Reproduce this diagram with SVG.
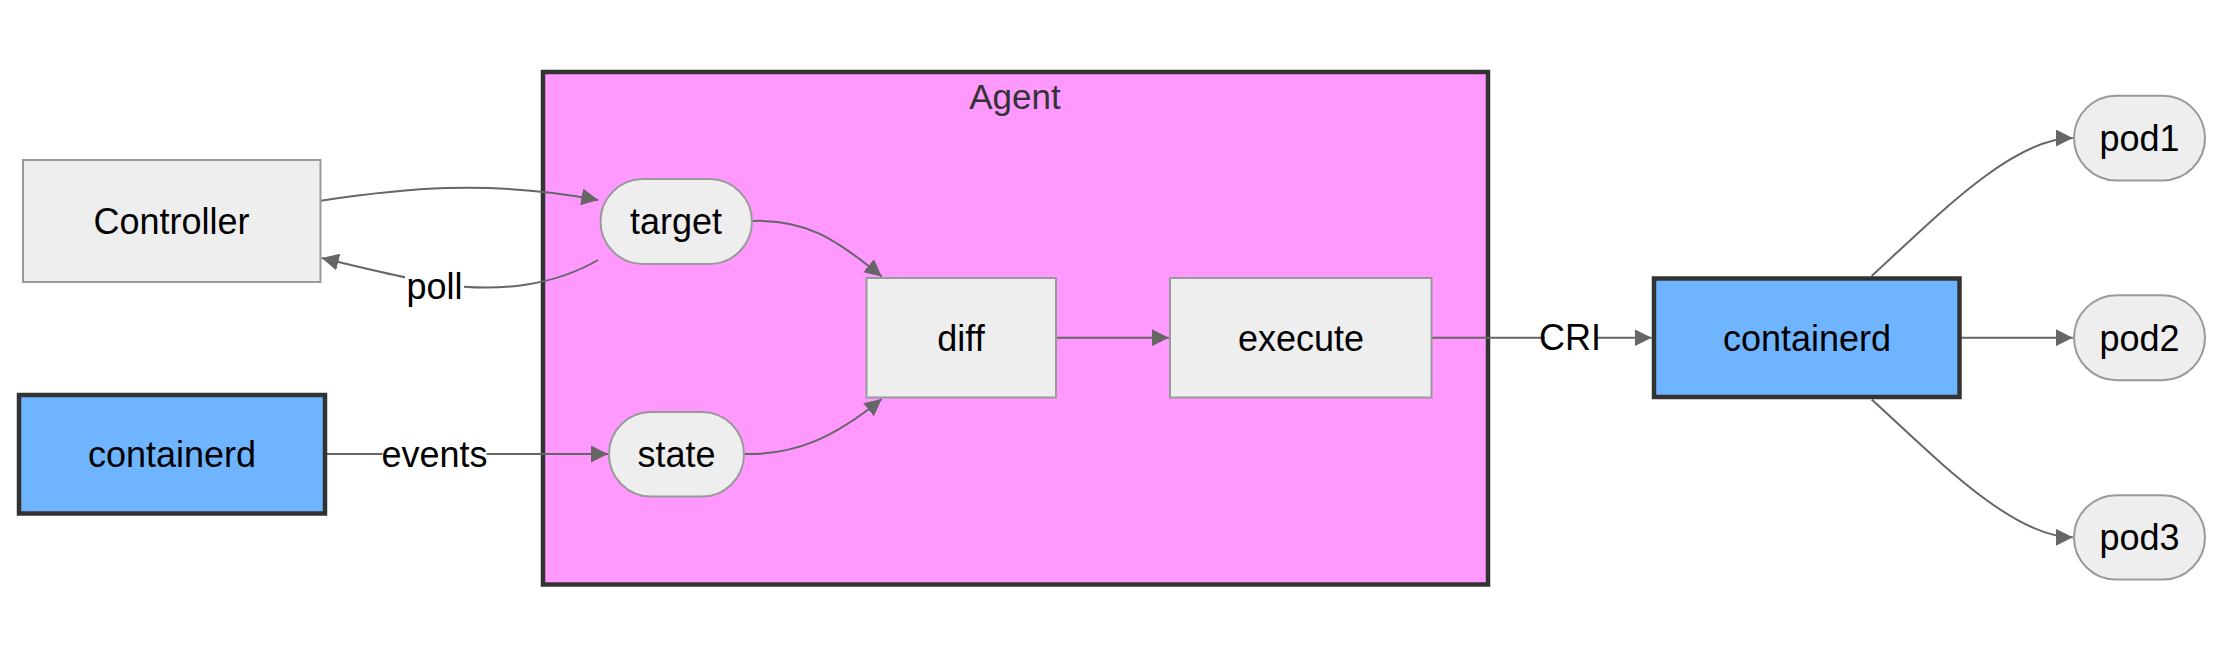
<svg xmlns="http://www.w3.org/2000/svg" width="2222" height="653" viewBox="0 0 2222 653">
<style>
  text { font-family: "Liberation Sans", Arial, sans-serif; font-size: 36px; fill: #000; text-anchor: middle; }
  .node { fill: #eeeeee; stroke: #999999; stroke-width: 2; }
  .ext { fill: #6eb4ff; stroke: #333333; stroke-width: 4.5; }
  .cluster { fill: #ff99ff; stroke: #333333; stroke-width: 4.5; }
  .title { fill: #333333; font-size: 35px; }
  .edge { fill: none; stroke: #666666; stroke-width: 2; }
  .lblbg { fill: #ffffff; }
</style>
<defs>
  <marker id="arrow" viewBox="0 0 10 10" refX="10" refY="5" markerUnits="userSpaceOnUse" markerWidth="17" markerHeight="17" orient="auto">
    <path d="M0,0 L10,5 L0,10 z" fill="#666666"/>
  </marker>
</defs>
<rect width="2222" height="653" fill="#ffffff"/>

<g id="cluster-agent">
  <rect class="cluster" x="543" y="72" width="945" height="512.5"/>
  <text class="title" x="1015" y="109">Agent</text>
</g>

<g id="connectors">
  <path class="edge" d="M320.7,200.7 C400,189 485,179 598.3,200" marker-end="url(#arrow)"/>
  <path class="edge" d="M598,260 C555,285 500,293 440,284 C420,281 400,277 321.7,258" marker-end="url(#arrow)"/>
  <path class="edge" d="M325,454 L608,454" marker-end="url(#arrow)"/>
  <path class="edge" d="M753,221 C805,219 835,238 881.7,276.5" marker-end="url(#arrow)"/>
  <path class="edge" d="M745,454 C796,455 835,437 881.7,399" marker-end="url(#arrow)"/>
  <path class="edge" d="M1057,337.7 L1168.9,337.7" marker-end="url(#arrow)"/>
  <path class="edge" d="M1432,337.7 L1651.6,337.7" marker-end="url(#arrow)"/>
  <path class="edge" d="M1871.7,276 C1935,218 2012,138 2072.8,138" marker-end="url(#arrow)"/>
  <path class="edge" d="M1959,337.7 L2072.8,337.7" marker-end="url(#arrow)"/>
  <path class="edge" d="M1871.7,399.5 C1935,457 2012,537.3 2072.8,537.3" marker-end="url(#arrow)"/>
  <g id="label-poll">
    <rect class="lblbg" x="405" y="266" width="59" height="44"/>
    <text x="434.5" y="299">poll</text>
  </g>
  <g id="label-events">
    <rect class="lblbg" x="382.5" y="432" width="104" height="44"/>
    <text x="434.5" y="466.5">events</text>
  </g>
  <g id="label-cri">
    <rect class="lblbg" x="1545" y="316" width="50" height="44"/>
    <text x="1570" y="350">CRI</text>
  </g>
</g>

<g id="node-controller">
  <rect class="node" x="23" y="160" width="297.5" height="122"/>
  <text x="171.5" y="234">Controller</text>
</g>
<g id="node-containerd-left">
  <rect class="ext" x="19" y="395" width="306" height="118.5"/>
  <text x="172" y="467">containerd</text>
</g>
<g id="node-target">
  <rect class="node" x="600.5" y="179" width="151.5" height="85" rx="42.5" ry="42.5"/>
  <text x="676" y="234">target</text>
</g>
<g id="node-state">
  <rect class="node" x="609" y="412" width="135" height="84.5" rx="42" ry="42"/>
  <text x="676.5" y="467">state</text>
</g>
<g id="node-diff">
  <rect class="node" x="866.5" y="278" width="189.5" height="119.5"/>
  <text x="961" y="351">diff</text>
</g>
<g id="node-execute">
  <rect class="node" x="1170" y="278" width="261.5" height="119.5"/>
  <text x="1301" y="351">execute</text>
</g>
<g id="node-containerd-right">
  <rect class="ext" x="1654" y="278.5" width="305.5" height="118.5"/>
  <text x="1807" y="351">containerd</text>
</g>
<g id="node-pod1">
  <rect class="node" x="2074" y="95.7" width="131" height="84.7" rx="42.3" ry="42.3"/>
  <text x="2139.5" y="151">pod1</text>
</g>
<g id="node-pod2">
  <rect class="node" x="2074" y="295.2" width="131" height="85" rx="42.5" ry="42.5"/>
  <text x="2139.5" y="350.5">pod2</text>
</g>
<g id="node-pod3">
  <rect class="node" x="2074" y="495.2" width="131" height="84.4" rx="42.2" ry="42.2"/>
  <text x="2139.5" y="550">pod3</text>
</g>
</svg>
